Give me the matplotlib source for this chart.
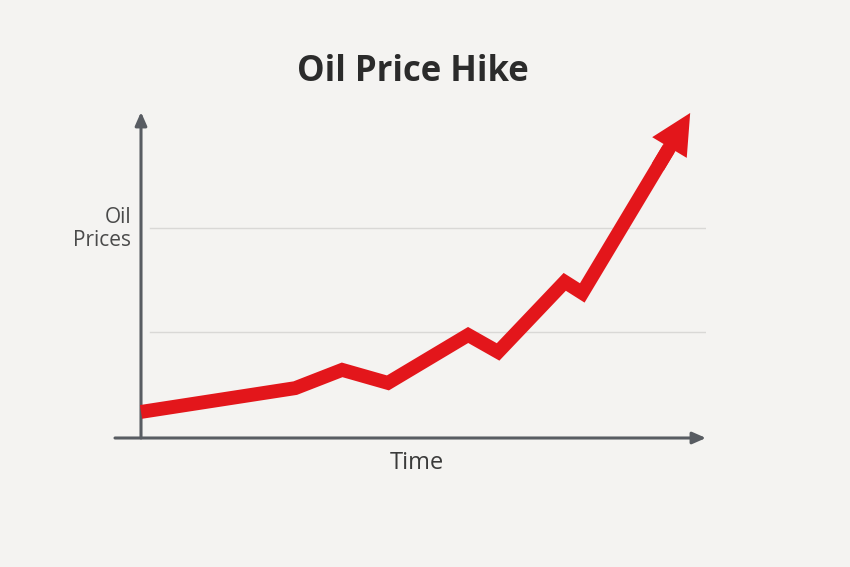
import matplotlib
matplotlib.use("Agg")
import matplotlib.pyplot as plt

plt.rcParams['font.family'] = ['Open Sans', 'DejaVu Sans']

# price path (time 0..100, price index 0..100)
time = [0, 27.3, 35.6, 43.7, 57.9, 63.2, 75.0, 78.1, 97.2]
price = [8.0, 15.3, 20.9, 16.9, 31.6, 26.4, 47.9, 44.5, 99.7]
grid_levels = [32.5, 64.4]

bg = "#f4f3f1"
axis_col = "#585c62"
red = "#e3161b"

fig = plt.figure(figsize=(8.5, 5.67), dpi=100, facecolor=bg)
ax = fig.add_axes([141/850, (567-438)/567, 565/850, 326/567])
ax.set_facecolor(bg)
ax.set_xlim(0, 100)
ax.set_ylim(0, 100)
for s in ax.spines.values():
    s.set_visible(False)
ax.set_xticks([])
ax.set_yticks([])

# faint gridlines
for g in grid_levels:
    ax.plot([1.6, 100], [g, g], color="#d9d8d6", lw=1, zorder=1)

# axes with arrowheads
ax.annotate("", xy=(0, 1.0), xytext=(0, 0), xycoords="axes fraction",
            arrowprops=dict(arrowstyle="-|>,head_length=0.8,head_width=0.35",
                            color=axis_col, lw=2.2, shrinkA=0, shrinkB=0),
            annotation_clip=False, zorder=3)
ax.annotate("", xy=(1.0, 0), xytext=(-26/565, 0), xycoords="axes fraction",
            arrowprops=dict(arrowstyle="-|>,head_length=0.8,head_width=0.35",
                            color=axis_col, lw=2.2, shrinkA=0, shrinkB=0),
            annotation_clip=False, zorder=3)

# red price line: body up to most of the last leg, then the arrowhead
f = 0.8
mx = time[-2] + f * (time[-1] - time[-2])
my = price[-2] + f * (price[-1] - price[-2])
ax.plot(time[:-1] + [mx], price[:-1] + [my], color=red, lw=10,
        solid_joinstyle="miter", solid_capstyle="butt", zorder=4, clip_on=False)
g = 0.7
sx = time[-2] + g * (time[-1] - time[-2])
sy = price[-2] + g * (price[-1] - price[-2])
ax.annotate("", xy=(time[-1], price[-1]), xytext=(sx, sy),
            arrowprops=dict(arrowstyle="simple,head_length=1.45,head_width=1.45,tail_width=0.5",
                            mutation_scale=20, color=red, lw=0,
                            shrinkA=0, shrinkB=0),
            annotation_clip=False, zorder=4)

fig.text(413/850, 1 - 72/567, "Oil Price Hike", fontsize=25, fontweight="bold",
         color="#2b2b2b", ha="center", va="center")
fig.text(131/850, 1 - 229/567, "Oil\nPrices", fontsize=15, color="#4a4a4a",
         ha="right", va="center", multialignment="right", linespacing=1.15)
fig.text(417/850, 1 - 463/567, "Time", fontsize=17, color="#3a3a3a",
         ha="center", va="center")

fig.savefig("out.png", dpi=100, facecolor=bg)
